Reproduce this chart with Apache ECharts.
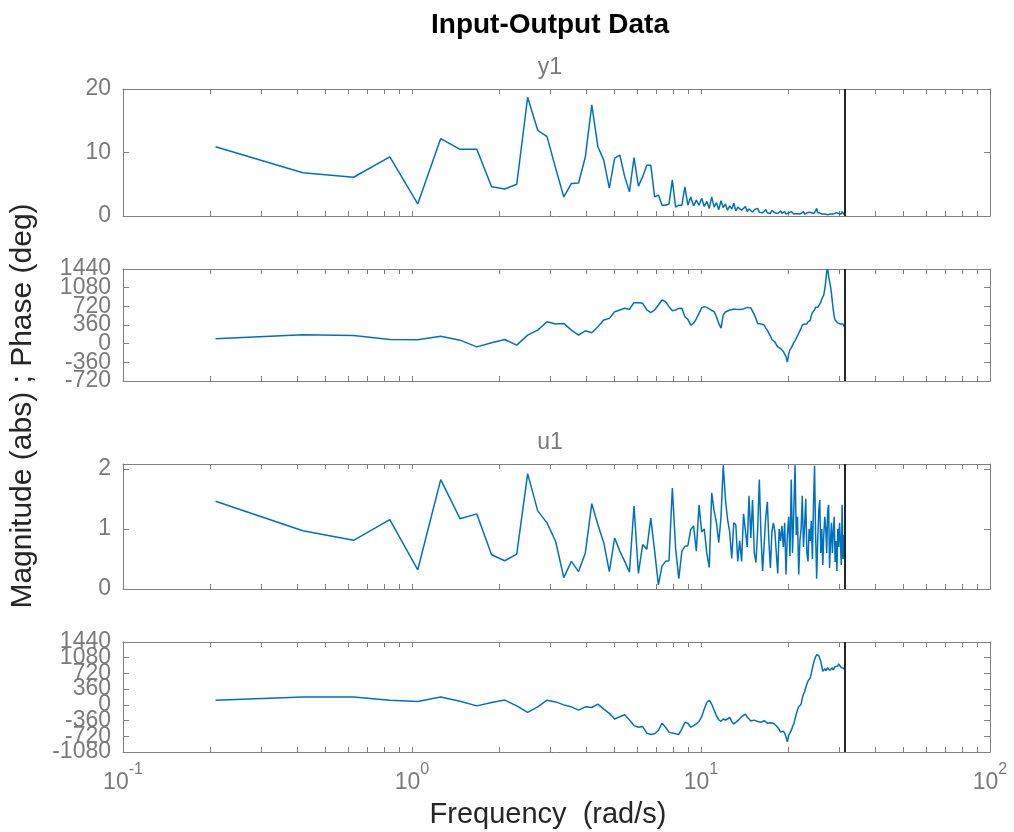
<!DOCTYPE html>
<html>
<head>
<meta charset="utf-8">
<script src="https://cdn.jsdelivr.net/npm/echarts@6/dist/echarts.min.js"></script>
<style>
html,body{margin:0;padding:0;background:#fff;}
#chart{width:1014px;height:832px;}
</style>
</head>
<body>
<div id="chart"></div>
<script>
// Frequency grid (rad/s)
const freq = [
0.209,0.419,0.628,0.838,1.047,1.257,1.466,1.676,1.885,2.094,
2.304,2.513,2.723,2.932,3.142,3.351,3.560,3.770,3.979,4.189,
4.398,4.608,4.817,5.027,5.236,5.445,5.655,5.864,6.074,6.283,
6.493,6.702,6.912,7.121,7.330,7.540,7.749,7.959,8.168,8.378,
8.587,8.796,9.006,9.215,9.425,9.634,9.844,10.053,10.263,10.472,
10.681,10.891,11.100,11.310,11.519,11.729,11.938,12.147,12.357,12.566,
12.776,12.985,13.195,13.404,13.614,13.823,14.032,14.242,14.451,14.661,
14.870,15.080,15.289,15.499,15.708,15.917,16.127,16.336,16.546,16.755,
16.965,17.174,17.383,17.593,17.802,18.012,18.221,18.431,18.640,18.850,
19.059,19.268,19.478,19.687,19.897,20.106,20.316,20.525,20.735,20.944,
21.153,21.363,21.572,21.782,21.991,22.201,22.410,22.620,22.829,23.038,
23.248,23.457,23.667,23.876,24.086,24.295,24.504,24.714,24.923,25.133,
25.342,25.552,25.761,25.971,26.180,26.389,26.599,26.808,27.018,27.227,
27.437,27.646,27.855,28.065,28.274,28.484,28.693,28.903,29.112,29.322,
29.531,29.740,29.950,30.159,30.369,30.578,30.788,30.997,31.206,31.416
];
const nyquist = 31.416;

// y1 magnitude (abs)
const y1Mag = [
10.9,6.8,6.1,9.3,1.9,12.2,10.5,10.5,4.6,4.25,
5.0,18.7,13.5,12.5,7.5,3.0,5.1,5.2,9.3,17.5,
10.9,8.8,4.4,9.1,9.6,6.2,3.8,9.2,4.7,6.2,
8.0,8.0,3.0,3.3,1.7,1.7,1.9,5.7,1.4,1.7,
1.7,4.6,1.7,3.0,1.6,2.5,1.7,2.8,1.5,2.3,
1.2,3.0,1.4,2.1,1.0,2.4,1.3,1.9,0.9,1.6,
1.1,2.0,0.8,1.4,1.7,0.9,1.2,1.5,0.7,1.1,
1.3,0.6,1.0,0.8,1.2,0.6,0.9,0.5,0.8,1.0,
0.5,0.7,0.4,0.9,0.6,0.5,0.7,0.4,0.6,0.8,
0.4,0.5,0.7,0.3,0.6,0.5,0.4,0.7,0.5,0.3,
0.6,0.4,0.5,0.3,0.6,0.4,0.5,0.7,0.3,0.4,
0.5,0.3,0.6,0.4,0.5,0.3,0.4,0.6,0.8,1.2,
0.5,0.3,0.5,0.4,0.3,0.6,0.4,0.3,0.5,0.4,
0.2,0.4,0.5,0.3,0.4,0.6,0.3,0.4,0.2,0.5,
0.3,0.6,0.4,0.2,0.5,0.3,0.7,0.4,0.3,0.2
];

// y1 phase (deg)
const y1Phase = [
93,171,159,81,75,145,68,-62,16,81,
-29,165,262,423,378,391,262,165,248,209,
326,456,488,617,650,682,663,791,791,779,
650,597,650,746,843,811,714,636,650,680,
682,520,469,359,391,480,585,690,714,700,
672,640,617,520,390,300,553,610,630,650,
655,670,663,680,660,690,670,663,700,675,
690,682,560,480,391,420,380,400,359,300,
260,200,150,80,60,35,-20,-60,-40,-93,
-120,-150,-200,-250,-353,-200,-120,-80,-62,20,
60,101,120,200,250,300,359,370,380,391,
380,420,391,450,540,600,580,650,700,714,
700,714,760,800,860,900,940,1050,1200,1392,
1440,1300,1198,1100,973,800,650,520,456,420,
440,400,420,391,380,400,360,380,339,330
];

// u1 magnitude (abs)
const u1Mag = [
1.46,0.97,0.81,1.155,0.32,1.82,1.17,1.25,0.57,0.47,
0.58,1.92,1.30,1.10,0.79,0.19,0.46,0.29,0.60,1.42,
1.07,0.77,0.29,0.85,0.63,0.46,0.28,1.38,0.26,0.74,
0.66,1.18,0.63,0.07,0.38,0.46,0.47,1.68,0.68,0.17,
0.63,0.71,0.72,0.99,1.05,0.63,1.40,0.95,1.00,0.60,
0.36,1.60,1.30,1.11,0.77,1.20,2.06,1.50,1.16,0.95,
0.51,1.10,1.07,0.46,0.80,0.46,1.25,1.27,0.70,1.55,
0.85,1.48,0.60,0.44,1.00,1.82,0.90,0.30,0.75,1.20,
1.45,0.80,0.35,0.95,1.10,0.96,0.60,0.26,1.00,0.80,
1.05,0.70,1.10,0.24,0.90,1.20,0.55,1.82,0.60,1.30,
2.06,0.90,1.20,0.24,0.80,1.00,1.55,0.70,1.05,1.50,
0.60,0.46,1.00,0.80,1.13,0.50,1.40,2.05,0.90,0.17,
0.80,1.30,1.48,0.60,1.00,0.40,0.90,1.20,1.02,0.60,
1.30,1.40,0.35,0.80,1.10,0.60,0.96,1.20,0.45,0.80,
0.30,1.00,0.70,1.10,0.79,0.40,1.40,0.50,0.90,0.46
];

// u1 phase (deg)
const u1Phase = [
106,181,181,106,77,181,84,-23,54,110,
-23,-172,-45,106,68,0,-45,-120,-45,-60,
16,-97,-195,-323,-271,-226,-346,-475,-512,-497,
-647,-678,-663,-587,-421,-512,-625,-647,-663,-678,
-550,-399,-421,-512,-475,-437,-377,-271,-97,54,
106,16,-120,-248,-346,-377,-323,-346,-323,-286,
-380,-437,-400,-377,-320,-271,-240,-211,-280,-323,
-370,-399,-350,-323,-380,-361,-400,-421,-360,-377,
-420,-380,-410,-399,-420,-450,-480,-512,-560,-625,
-580,-602,-650,-738,-850,-700,-640,-587,-500,-437,
-320,-211,-120,-45,-20,16,150,242,300,393,
480,542,560,619,720,845,950,1033,1100,1146,
1160,1130,1060,994,880,768,800,829,780,807,
850,845,790,800,830,852,800,829,880,920,
860,882,940,980,900,852,870,897,840,800
];

const xTicks = [0.2,0.3,0.4,0.5,0.6,0.7,0.8,0.9,1,2,3,4,5,6,7,8,9,10,20,30,40,50,60,70,80,90];
const xLabels = [0.1,1,10,100];
const xLabelText = {'0.1':['10','-1'],'1':['10','0'],'10':['10','1'],'100':['10','2']};

// y tick values per panel; labels split in two interleaved sets so none get dropped
const yRanges = [
  {min:0, max:20, interval:10, ticks:[0,10,20], labA:[0,10,20], labB:[]},
  {min:-720, max:1440, interval:360, ticks:[-720,-360,0,360,720,1080,1440], labA:[-720,0,720,1440], labB:[-360,360,1080]},
  {min:0, max:2.08, interval:1, ticks:[0,1,2], labA:[0,1,2], labB:[]},
  {min:-1080, max:1440, interval:360, ticks:[-1080,-720,-360,0,360,720,1080,1440], labA:[-1080,-360,360,1080], labB:[-720,0,720,1440]}
];
const seriesData = [y1Mag, y1Phase, u1Mag, u1Phase];
const panelBoxes = [
  {top:89, height:127},
  {top:269, height:112},
  {top:464, height:125},
  {top:642, height:110}
];

const AX = '#808080';
const TXT = '#7a7a7a';
const FONT = 'Liberation Sans, Arial, Helvetica, sans-serif';

const grids = [], xAxes = [], yAxes = [], series = [];
panelBoxes.forEach((b, i) => {
  grids.push({left:123, right:24, top:b.top, height:b.height, containLabel:false});
  const isLast = i === panelBoxes.length - 1;
  const xi = xAxes.length;
  xAxes.push({
    type:'log', logBase:10, gridIndex:i, min:0.1, max:100, position:'bottom',
    axisLine:{show:true, onZero:false, lineStyle:{color:AX, width:1}},
    axisTick:{show:true, inside:true, length:5, customValues:xTicks, lineStyle:{color:AX}},
    splitLine:{show:false}, minorTick:{show:false},
    axisLabel: isLast ? {
      show:true, customValues:xLabels, margin:10, showMinLabel:true, showMaxLabel:true,
      formatter: v => { const t = xLabelText[String(+v.toPrecision(3))] || ['10','?']; return '{b|' + t[0] + '}{s|' + t[1] + '}'; },
      rich:{
        b:{fontSize:23, fontFamily:FONT, color:TXT, lineHeight:32, verticalAlign:'bottom'},
        s:{fontSize:16, fontFamily:FONT, color:TXT, lineHeight:17, verticalAlign:'top'}
      }
    } : {show:false}
  });
  xAxes.push({
    type:'log', logBase:10, gridIndex:i, min:0.1, max:100, position:'top',
    axisLine:{show:true, onZero:false, lineStyle:{color:AX, width:1}},
    axisTick:{show:true, inside:true, length:5, customValues:xTicks, lineStyle:{color:AX}},
    splitLine:{show:false}, axisLabel:{show:false}
  });
  const r = yRanges[i];
  const yi = yAxes.length;
  yAxes.push({
    type:'value', gridIndex:i, min:r.min, max:r.max, interval:r.interval, position:'left',
    axisLine:{show:true, onZero:false, lineStyle:{color:AX, width:1}},
    axisTick:{show:true, inside:true, length:6, customValues:r.ticks, lineStyle:{color:AX}},
    splitLine:{show:false},
    axisLabel:{show:true, customValues:r.labA, margin:12, color:TXT, fontSize:23, fontFamily:FONT,
      showMinLabel:true, showMaxLabel:true, hideOverlap:false, formatter: v => String(v)}
  });
  yAxes.push({
    type:'value', gridIndex:i, min:r.min, max:r.max, interval:r.interval, position:'right',
    axisLine:{show:true, onZero:false, lineStyle:{color:AX, width:1}},
    axisTick:{show:true, inside:true, length:6, customValues:r.ticks, lineStyle:{color:AX}},
    splitLine:{show:false}, axisLabel:{show:false}
  });
  if (r.labB.length) {
    yAxes.push({
      type:'value', gridIndex:i, min:r.min, max:r.max, interval:r.interval, position:'left', offset:0,
      axisLine:{show:false}, axisTick:{show:false}, splitLine:{show:false},
      axisLabel:{show:true, customValues:r.labB, margin:12, color:TXT, fontSize:23, fontFamily:FONT,
        showMinLabel:true, showMaxLabel:true, hideOverlap:false, formatter: v => String(v)}
    });
  }
  series.push({
    type:'line', xAxisIndex:xi, yAxisIndex:yi,
    data: freq.map((f, k) => [f, seriesData[i][k]]),
    showSymbol:false, symbol:'none', clip:true,
    lineStyle:{color:'#0072BD', width:1.5},
    markLine:{
      symbol:'none', silent:true, label:{show:false},
      lineStyle:{color:'#262626', width:2, type:'solid'},
      data:[{xAxis:nyquist}]
    }
  });
});

const chart = echarts.init(document.getElementById('chart'), null, {renderer:'canvas'});
chart.setOption({
  animation:false,
  backgroundColor:'#ffffff',
  grid:grids, xAxis:xAxes, yAxis:yAxes, series:series,
  graphic:[
    {type:'text', x:550, y:25, style:{text:'Input-Output Data', fontSize:28, fontWeight:'bold', fontFamily:FONT, fill:'#000', align:'center', verticalAlign:'middle'}},
    {type:'text', x:550, y:68, style:{text:'y1', fontSize:23, fontFamily:FONT, fill:TXT, align:'center', verticalAlign:'middle'}},
    {type:'text', x:550, y:443, style:{text:'u1', fontSize:23, fontFamily:FONT, fill:TXT, align:'center', verticalAlign:'middle'}},
    {type:'text', x:548, y:815, style:{text:'Frequency  (rad/s)', fontSize:29, fontFamily:FONT, fill:'#262626', align:'center', verticalAlign:'middle'}},
    {type:'text', x:23, y:406, rotation:Math.PI/2, style:{text:'Magnitude (abs) ; Phase (deg)', fontSize:30, fontFamily:FONT, fill:'#262626', align:'center', verticalAlign:'middle'}}
  ]
});
</script>
</body>
</html>
